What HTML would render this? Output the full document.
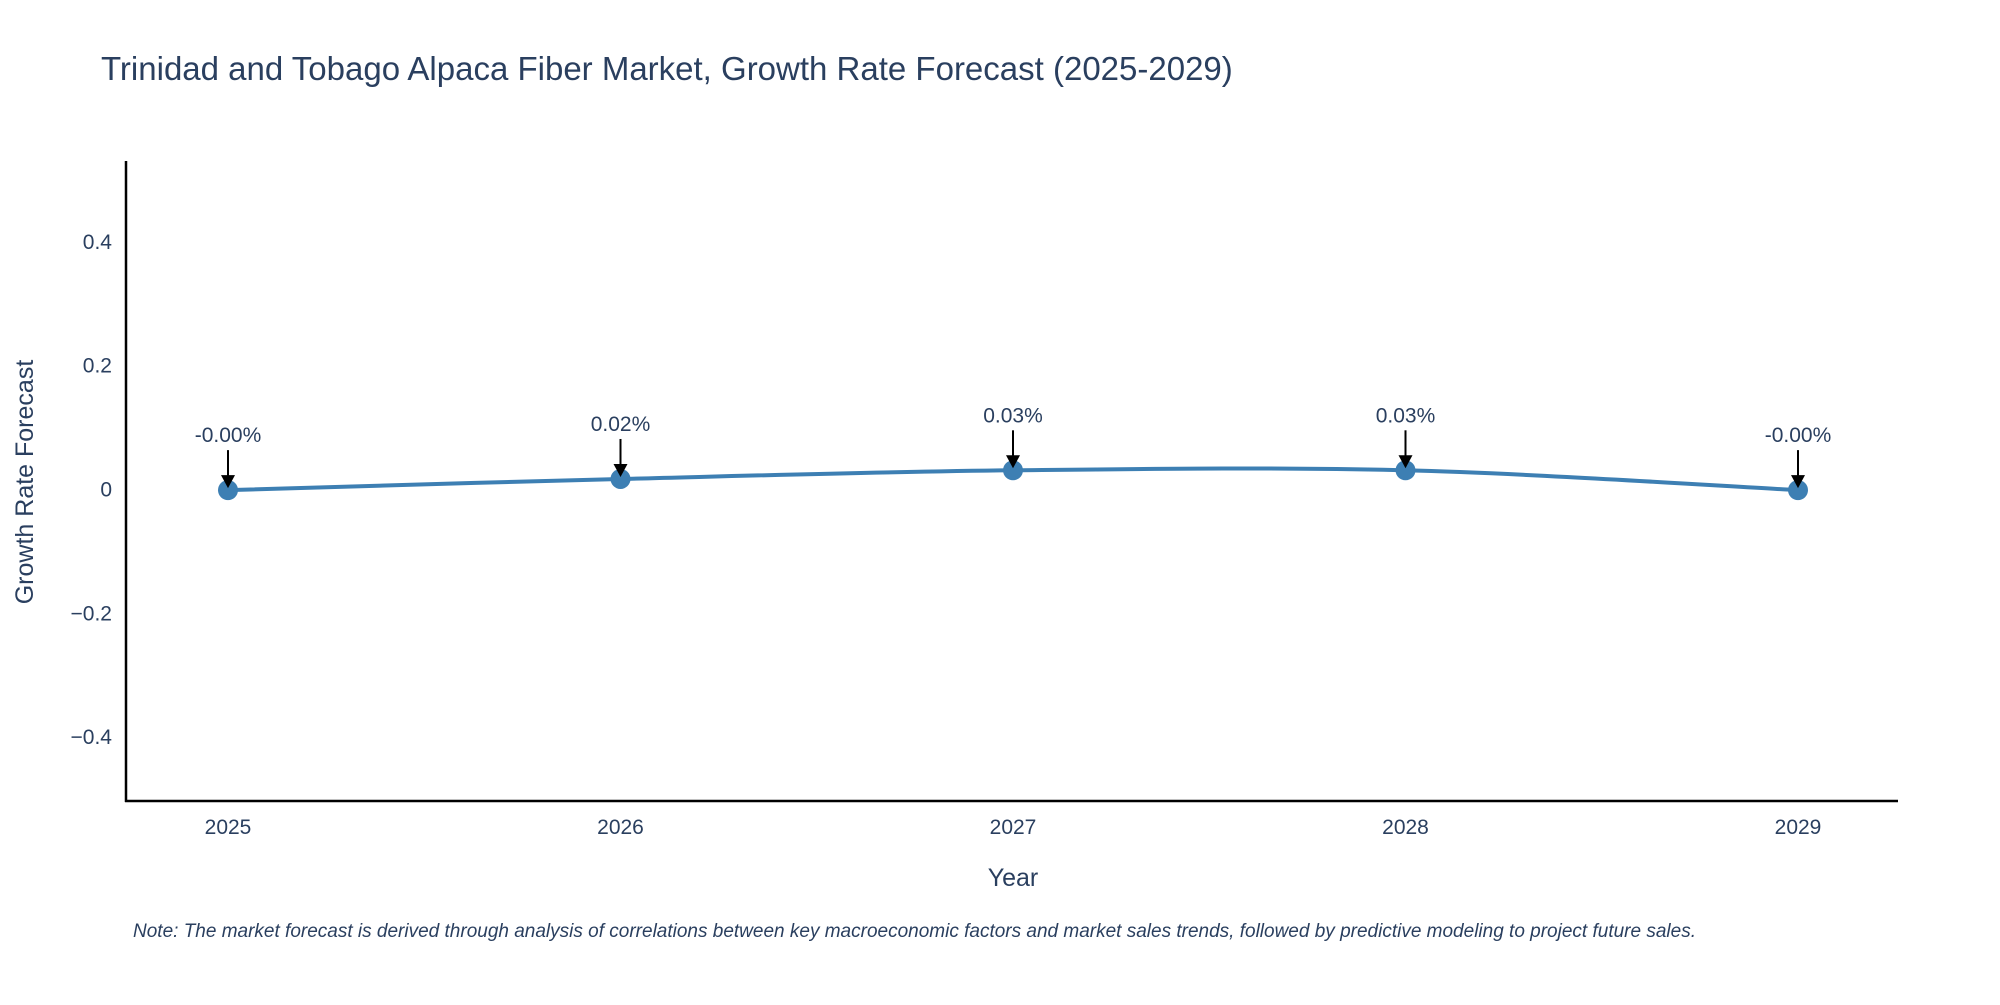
<!DOCTYPE html>
<html><head><meta charset="utf-8"><style>
body{margin:0;background:#fff;}
svg text{font-family:"Liberation Sans",sans-serif;}
</style></head><body>
<svg id="chart" width="2000" height="1000" viewBox="0 0 2000 1000" xmlns="http://www.w3.org/2000/svg">
<text x="101" y="80" font-size="33" fill="#2a3f5f">Trinidad and Tobago Alpaca Fiber Market, Growth Rate Forecast (2025-2029)</text>
<g id="yticks"></g>
<g id="xticks"></g>
<line x1="126" y1="161" x2="126" y2="802" stroke="#000" stroke-width="2.5"/>
<line x1="125" y1="801" x2="1898" y2="801" stroke="#000" stroke-width="2.5"/>
<path id="line" fill="none" stroke="#3d7fb3" stroke-width="4"/>
<g id="points"></g>
<g id="annots"></g>
<text x="1013" y="886" font-size="25" fill="#2a3f5f" text-anchor="middle">Year</text>
<text transform="translate(33,482) rotate(-90)" font-size="25" fill="#2a3f5f" text-anchor="middle">Growth Rate Forecast</text>
<text x="133" y="937" font-size="19" font-style="italic" fill="#2a3f5f">Note: The market forecast is derived through analysis of correlations between key macroeconomic factors and market sales trends, followed by predictive modeling to project future sales.</text>
</svg>
<script>
const years = [2025, 2026, 2027, 2028, 2029];
const growth = [-0.001, 0.017, 0.031, 0.031, -0.001];
const valueLabels = ["-0.00%", "0.02%", "0.03%", "0.03%", "-0.00%"];
const yTickValues = [-0.4, -0.2, 0, 0.2, 0.4];
const yTickLabels = ["\u22120.4", "\u22120.2", "0", "0.2", "0.4"];

const NS = "http://www.w3.org/2000/svg";
const xScale = v => 228 + (v - 2025) * 392.5;
const yScale = v => 489.5 - v * 619;
function mk(tag, attrs, parent){const e=document.createElementNS(NS,tag);for(const k in attrs)e.setAttribute(k,attrs[k]);parent.appendChild(e);return e;}

const yt=document.getElementById('yticks');
yTickValues.forEach((v,i)=>{
  const t=mk('text',{x:112,y:yScale(v)+7,'font-size':21,fill:'#2a3f5f','text-anchor':'end'},yt);
  
  
  t.textContent=yTickLabels[i];
});
const xt=document.getElementById('xticks');
years.forEach(y=>{
  const t=mk('text',{x:xScale(y),y:834,'font-size':21,fill:'#2a3f5f','text-anchor':'middle'},xt);
  
  
  t.textContent=String(y);
});

const pts=years.map((y,i)=>[xScale(y),yScale(growth[i])]);
let d=`M${pts[0][0]},${pts[0][1]}`;
const s=0.5/3*2;
for(let i=0;i<pts.length-1;i++){
  const p0=pts[Math.max(0,i-1)],p1=pts[i],p2=pts[i+1],p3=pts[Math.min(pts.length-1,i+2)];
  const c1=[p1[0]+(p2[0]-p0[0])*s/2,p1[1]+(p2[1]-p0[1])*s/2];
  const c2=[p2[0]-(p3[0]-p1[0])*s/2,p2[1]-(p3[1]-p1[1])*s/2];
  d+=` C${c1[0]},${c1[1]} ${c2[0]},${c2[1]} ${p2[0]},${p2[1]}`;
}
document.getElementById('line').setAttribute('d',d);

const pg=document.getElementById('points'), ag=document.getElementById('annots');
pts.forEach((p,i)=>{
  const c=mk('circle',{cx:p[0],cy:p[1],r:10,fill:'#3d7fb3'},pg);
  
  
  const l=mk('line',{x1:p[0],y1:p[1]-40,x2:p[0],y2:p[1]-12,stroke:'#000','stroke-width':2},ag);
  
  
  const h=mk('path',{d:`M${p[0]-7},${p[1]-15} L${p[0]+7},${p[1]-15} L${p[0]},${p[1]-2} Z`,fill:'#000'},ag);
  
  
  const t=mk('text',{x:p[0],y:p[1]-48,'font-size':21,fill:'#2a3f5f','text-anchor':'middle'},ag);
  
  
  t.textContent=valueLabels[i];
});
</script>
</body></html>
